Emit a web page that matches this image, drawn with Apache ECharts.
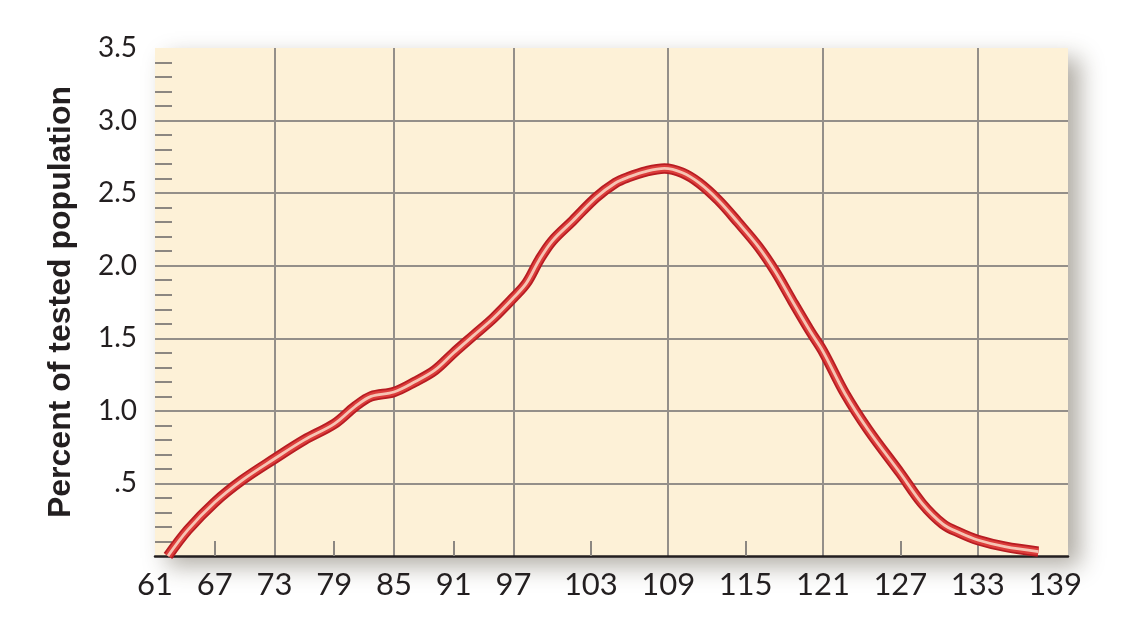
<!DOCTYPE html>
<html>
<head>
<meta charset="utf-8">
<script src="https://cdn.jsdelivr.net/npm/echarts@6/dist/echarts.min.js"></script>
<style>
html,body{margin:0;padding:0;background:#fff;}
#chart{width:1123px;height:628px;}
</style>
</head>
<body>
<div id="chart"></div>
<script>
// ---- data ----
const iq = [62.3, 64.3, 67.0, 69.7, 73.0, 76.0, 79.0, 81.1, 82.7, 85.0, 87.1, 89.1, 91.0, 93.0, 95.0, 97.0, 98.0, 99.0, 100.0, 101.6, 103.4, 104.9, 105.9, 107.3, 108.7, 110.1, 111.4, 112.9, 114.4, 116.0, 117.3, 118.6, 120.0, 121.0, 122.7, 124.5, 127.0, 128.7, 130.3, 131.6, 133.0, 135.1, 137.7];
const pct = [0.00, 0.18, 0.37, 0.52, 0.67, 0.80, 0.91, 1.03, 1.10, 1.13, 1.20, 1.28, 1.40, 1.52, 1.64, 1.78, 1.88, 2.04, 2.17, 2.31, 2.47, 2.57, 2.61, 2.65, 2.67, 2.64, 2.57, 2.45, 2.30, 2.13, 1.96, 1.76, 1.55, 1.41, 1.12, 0.87, 0.57, 0.36, 0.22, 0.16, 0.11, 0.064, 0.03];
const xTickLabels = [61, 67, 73, 79, 85, 91, 97, 103, 109, 115, 121, 127, 133, 139];
const xGridValues = [73, 85, 97, 109, 121, 133];
const xMinorTickValues = [67, 79, 91, 103, 115, 127];
const yTitle = 'Percent of tested population';

// ---- axis scale (the printed axis is stretched above 97) ----
const X_MIN = 61, X_MAX = 140, BREAK = 97, STRETCH = 1.295;
const warp = v => v <= BREAK ? v : BREAK + (v - BREAK) * STRETCH;
const unwarp = w => w <= BREAK ? w : BREAK + (w - BREAK) / STRETCH;

const lineData = iq.map((x, i) => [warp(x), pct[i]]);

const chart = echarts.init(document.getElementById('chart'));
const baseSeries = {
  type: 'line', data: lineData, smooth: 0.35, showSymbol: false, symbol: 'none',
  xAxisIndex: 0, yAxisIndex: 0, silent: true
};
chart.setOption({
  animation: false,
  grid: {
    left: 155, right: 55, top: 48, bottom: 72,
    show: true, backgroundColor: '#fdf1d7', borderWidth: 0,
    shadowBlur: 22, shadowColor: 'rgba(60,50,30,0.40)', shadowOffsetX: 12, shadowOffsetY: 10
  },
  xAxis: [
    {
      type: 'value', min: warp(X_MIN), max: warp(X_MAX), position: 'bottom',
      axisLine: { show: true, onZero: false, lineStyle: { color: '#231f20', width: 2.5 } },
      axisTick: { show: true, inside: true, length: 15, customValues: xMinorTickValues.map(warp),
                  lineStyle: { color: '#8c8781', width: 2 } },
      axisLabel: { customValues: xTickLabels.map(warp), margin: 13,
                   formatter: v => String(Math.round(unwarp(v))),
                   color: '#231f20', fontSize: 31, fontFamily: 'Lato' },
      splitLine: { show: false }
    },
    {
      type: 'value', min: warp(X_MIN), max: warp(X_MAX), position: 'bottom', gridIndex: 0,
      axisLine: { show: false }, axisLabel: { show: false },
      axisTick: { show: false, customValues: xGridValues.map(warp) },
      splitLine: { show: true, lineStyle: { color: '#948f89', width: 2 } }
    }
  ],
  yAxis: {
    type: 'value', min: 0, max: 3.5, interval: 0.5,
    name: yTitle, nameLocation: 'middle', nameGap: 78, nameRotate: 90,
    nameTextStyle: { fontSize: 32, fontWeight: 'bold', fontFamily: 'Liberation Sans', color: '#231f20' },
    axisLine: { show: false },
    axisTick: { show: false, inside: true },
    minorTick: { show: true, splitNumber: 5, length: 17, lineStyle: { color: '#8c8781', width: 2 } },
    axisLabel: { margin: 18, color: '#231f20', fontSize: 28, fontFamily: 'Lato',
                 formatter: v => v === 0 ? '' : (v === 0.5 ? '.5' : v.toFixed(1)) },
    splitLine: { show: true, showMaxLine: false, showMinLine: false, lineStyle: { color: '#948f89', width: 2 } }
  },
  series: [
    Object.assign({}, baseSeries, { lineStyle: { color: '#b71c22', width: 10.5, cap: 'butt' } }),
    Object.assign({}, baseSeries, { lineStyle: { color: '#dc3d3b', width: 7, cap: 'butt' } }),
    Object.assign({}, baseSeries, { lineStyle: { color: '#f6c4b4', width: 2.8, cap: 'butt' } })
  ]
});
</script>
</body>
</html>
